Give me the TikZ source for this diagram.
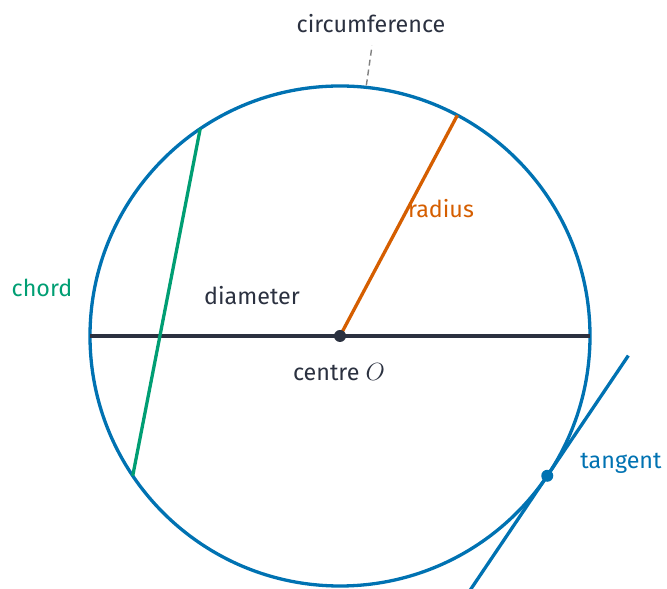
\documentclass[tikz,border=0pt]{standalone}
\usepackage{fontspec}
\setmainfont{Fira Sans}
\usetikzlibrary{calc}
\definecolor{cblue}{HTML}{0072B2}
\definecolor{corange}{HTML}{D55E00}
\definecolor{cgreen}{HTML}{009E73}
\definecolor{ctext}{HTML}{2B3140}
\begin{document}
\begin{tikzpicture}[x=1pt,y=1pt,
  lbl/.style={font=\fontsize{23.3}{26}\selectfont, text=ctext, inner sep=0pt},
  seg/.style={line width=3.3pt},
  dotmark/.style={circle, fill, inner sep=0pt, minimum size=12pt}]
\useasboundingbox (0,0) rectangle (667,589);
\coordinate (O) at (340,253);
\draw[cblue, seg] (O) circle (250);
% diameter
\coordinate (D1) at ($(O)+(180:250)$);
\coordinate (D2) at ($(O)+(0:250)$);
\draw[ctext, seg] (D1) -- (D2);
% chord
\coordinate (C1) at ($(O)+(124:250)$);
\coordinate (C2) at ($(O)+(214:250)$);
\draw[cgreen, seg] (C1) -- (C2);
% radius
\coordinate (R1) at ($(O)+(62:250)$);
\draw[corange, seg] (O) -- (R1);
\node[dotmark, fill=ctext] (Odot) at (O) {};
% tangent
\coordinate (T) at ($(O)+(-34:250)$);
\coordinate (T1) at ($(T)+(56:145)$);
\coordinate (T2) at ($(T)+(236:145)$);
\draw[cblue, seg] (T1) -- (T2);
\node[dotmark, fill=cblue] (Tdot) at (T) {};
% circumference pointer
\coordinate (P1) at ($(O)+(84:252)$);
\coordinate (P2) at ($(O)+(83.7:292)$);
\draw[gray, line width=1.4pt, dash pattern=on 6pt off 4pt] (P1) -- (P2);
% labels
\node[lbl] (circ) at (371,565) {circumference};
\node[lbl, text=corange] (rad) at (441,380) {radius};
\node[lbl] (diam) at (252,293) {diameter};
\node[lbl] (cen) at (339,217) {centre $O$};
\node[lbl, text=cgreen] (chord) at (42,301) {chord};
\node[lbl, text=cblue] (tan) at (621,126) {tangent};
\end{tikzpicture}
\end{document}
